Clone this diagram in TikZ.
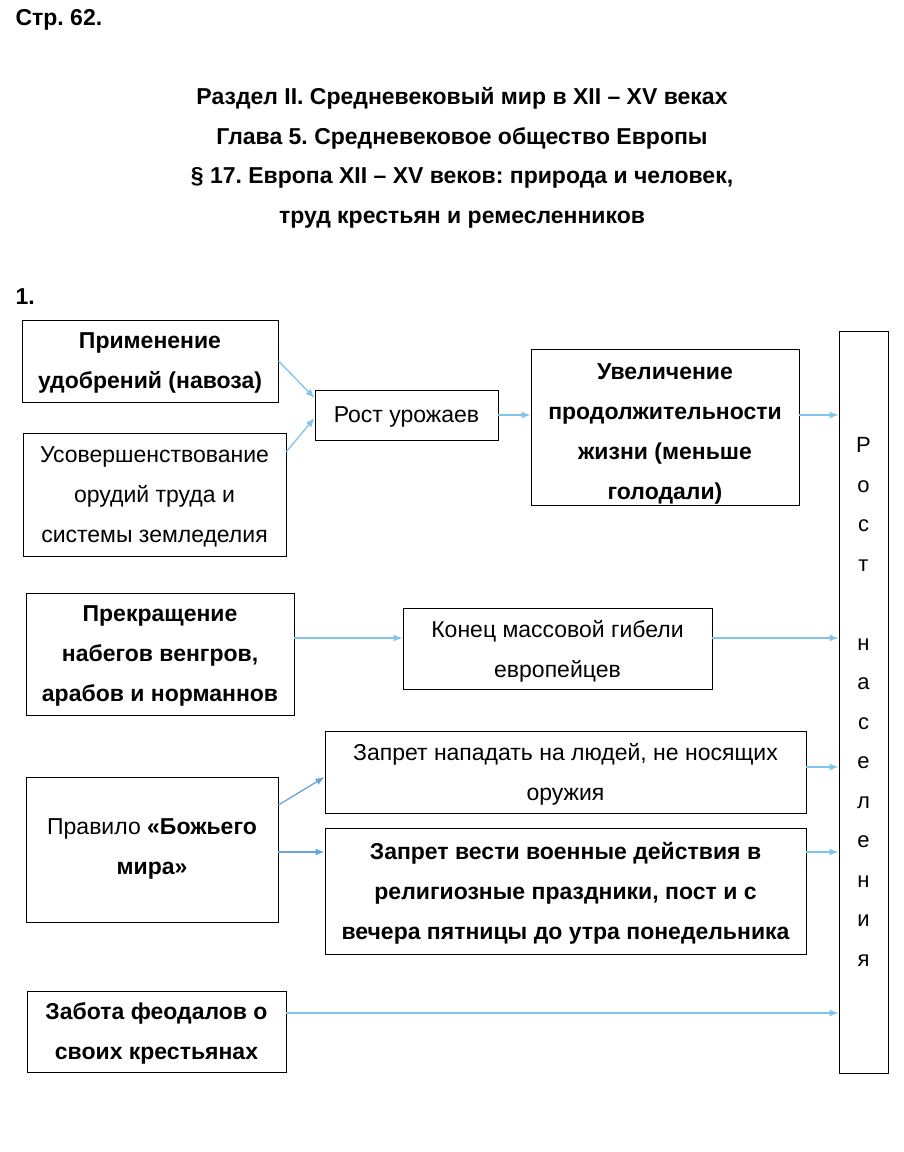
\documentclass[tikz,border=0pt]{standalone}
\usepackage{fontspec}
\setmainfont{Liberation Sans}
\usetikzlibrary{arrows.meta,positioning,calc}
\definecolor{arrblue}{RGB}{128,196,236}
\definecolor{arrdark}{RGB}{104,164,216}
\frenchspacing
\tikzset{
  box/.style={draw, line width=0.9pt, align=center, inner sep=0pt, text depth=0pt,
    font=\fontsize{23}{40}\selectfont},
  bbox/.style={box, font=\fontsize{23}{40}\selectfont\bfseries},
  arr/.style={-{Latex[length=9pt, width=7pt]}, arrblue, line width=1.3pt},
  gar/.style={arr, arrdark},
  hd/.style={font=\fontsize{23}{39.5}\selectfont\bfseries, align=center},
}

\begin{document}
\begin{tikzpicture}[x=1pt, y=-1pt]
\useasboundingbox (0,0) rectangle (903,1152);
%---- heading
\node[hd, anchor=west] (page) at (12,20) {Стр. 62.};
\node[hd] (title) at (462,158) {Раздел II. Средневековый мир в XII – XV веках\\
  Глава 5. Средневековое общество Европы\\
  § 17. Европа XII – XV веков: природа и человек,\\
  труд крестьян и ремесленников};
\node[hd, anchor=west] (num) at (12,297) {1.};
%---- boxes
\node[bbox, minimum width=256pt, minimum height=82pt] (A) at (150,361)
     {Применение\\удобрений (навоза)};
\node[box, minimum width=263pt, minimum height=123pt] (B) at (154.5,494.5)
     {Усовершенствование\\орудий труда и\\системы земледелия};
\node[box, minimum width=183pt, minimum height=50pt] (C) at (406.5,415) {Рост урожаев};
\node[bbox, minimum width=268pt, minimum height=156pt] (D) at (665,427)
     {\rule{0pt}{25pt}Увеличение\\продолжительности\\жизни (меньше\\голодали)};
\node[draw, line width=0.9pt, align=center, inner sep=0pt, minimum width=49pt, minimum height=742pt,
     font=\fontsize{22}{39.5}\selectfont] (R) at (863.5,702)
     {Р\\о\\с\\т\\[39.5pt]н\\а\\с\\е\\л\\е\\н\\и\\я};
\node[bbox, minimum width=268pt, minimum height=122pt] (E) at (160,654)
     {Прекращение\\набегов венгров,\\арабов и норманнов};
\node[box, minimum width=309pt, minimum height=81pt] (F) at (557.5,648.5)
     {Конец массовой гибели\\европейцев};
\node[box, minimum width=252pt, minimum height=145pt, text depth=6pt] (G) at (152,849.5)
     {Правило \textbf{«Божьего}\\\textbf{мира»}};
\node[box, minimum width=481pt, minimum height=82pt] (H) at (565.5,772)
     {Запрет нападать на людей, не носящих\\оружия};
\node[bbox, minimum width=481pt, minimum height=126pt] (I) at (565.5,891)
     {Запрет вести военные действия в\\религиозные праздники, пост и с\\вечера пятницы до утра понедельника};
\node[bbox, minimum width=259pt, minimum height=81pt] (J) at (156.5,1031.5)
     {Забота феодалов о\\своих крестьянах};
%---- arrows
\coordinate (dr) at ([yshift=12pt]D.east);
\coordinate (ef) at ([yshift=16pt]E.east);
\coordinate (fr) at ([yshift=10.5pt]F.east);
\coordinate (gi) at ([yshift=-2.5pt]G.east);
\coordinate (hr) at ([yshift=5pt]H.east);
\coordinate (ir) at ([yshift=39pt]I.east);
\coordinate (jr) at ([yshift=18.5pt]J.east);
\draw[arr] (A.east) -- ([yshift=17pt]C.west);
\draw[arr] ([yshift=-19pt]B.north east) -- ([yshift=-3pt]C.west);
\draw[arr] (C.east) -- (C.east -| D.west);
\draw[arr] (dr) -- (dr -| R.west);
\draw[arr] (ef) -- (ef -| F.west);
\draw[arr] (fr) -- (fr -| R.west);
\draw[gar] ([yshift=44.5pt]G.east) -- ([yshift=-5pt]H.west);
\draw[gar] (gi) -- (gi -| I.west);
\draw[arr] (hr) -- (hr -| R.west);
\draw[arr] (ir) -- (ir -| R.west);
\draw[arr] (jr) -- (jr -| R.west);
\end{tikzpicture}
\end{document}
